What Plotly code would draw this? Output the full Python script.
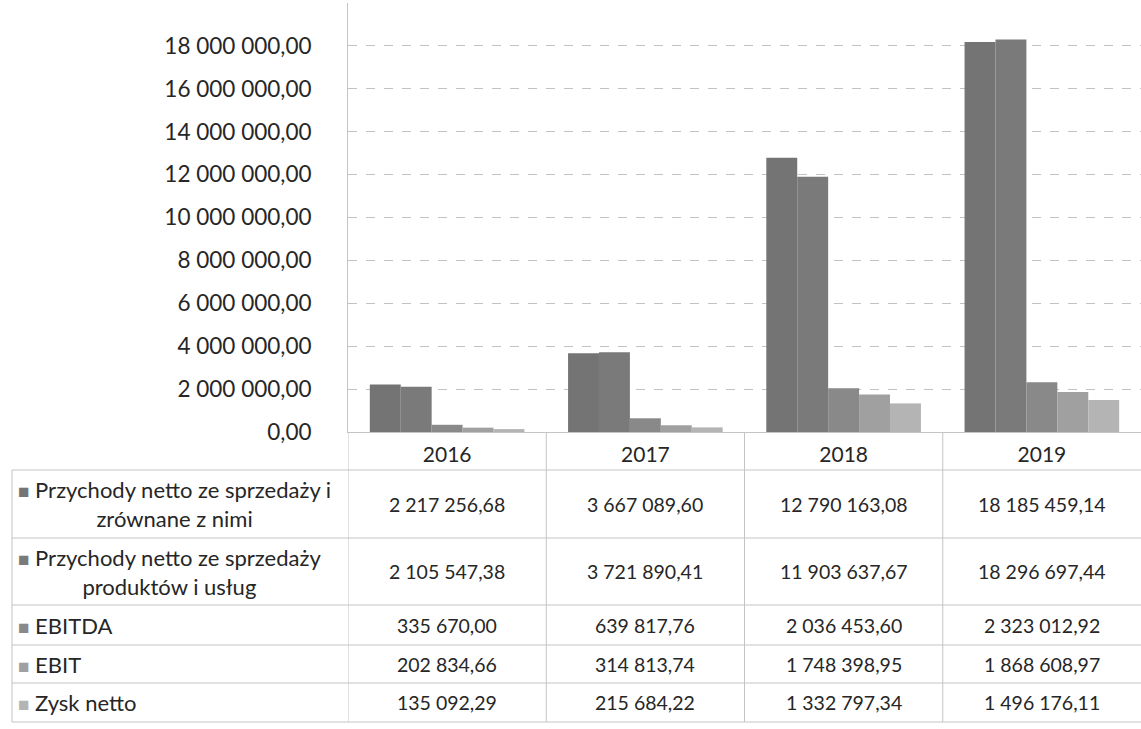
import plotly.graph_objects as go

# ---------------- data ----------------
years = ["2016", "2017", "2018", "2019"]
series_names = [
    "Przychody netto ze sprzedaży i<br>zrównane z nimi",
    "Przychody netto ze sprzedaży<br>produktów i usług",
    "EBITDA",
    "EBIT",
    "Zysk netto",
]
przychody_zrownane = [2217256.68, 3667089.60, 12790163.08, 18185459.14]
przychody_produkty = [2105547.38, 3721890.41, 11903637.67, 18296697.44]
ebitda = [335670.00, 639817.76, 2036453.60, 2323012.92]
ebit = [202834.66, 314813.74, 1748398.95, 1868608.97]
zysk_netto = [135092.29, 215684.22, 1332797.34, 1496176.11]
series_values = [przychody_zrownane, przychody_produkty, ebitda, ebit, zysk_netto]
y_ticks = [0, 2e6, 4e6, 6e6, 8e6, 10e6, 12e6, 14e6, 16e6, 18e6]

# ---------------- style ----------------
colors = ["#747474", "#7a7a7a", "#898989", "#a0a0a0", "#b4b4b4"]
W, H = 1141, 729
TOP, BOT = 3, 0
FONT = "Lato"
TXT = "#262626"
LINE = "#c4c4c4"

def px(x):
    return x / W

def py(y):
    return (H - BOT - y) / (H - TOP - BOT)

plot_bottom = 432
rows = [432, 470, 538, 605, 645, 683, 722]  # header + 5 data rows

def fmt(v):
    return f"{v:,.2f}".replace(",", " ").replace(".", ",")

fig = go.Figure()
for name, vals, col in zip(series_names, series_values, colors):
    fig.add_trace(go.Bar(
        x=years, y=vals, name=name.replace("<br>", " "),
        marker=dict(color=col, line=dict(width=0)),
        showlegend=False,
    ))

shapes = []
annotations = []

# horizontal table lines
for yy in rows[1:]:
    shapes.append(dict(type="line", xref="paper", yref="paper",
                       x0=px(12), x1=1, y0=py(yy), y1=py(yy),
                       line=dict(color=LINE, width=1)))
# left border
shapes.append(dict(type="line", xref="paper", yref="paper",
                   x0=px(12), x1=px(12), y0=py(rows[1]), y1=py(rows[-1]),
                   line=dict(color=LINE, width=1)))
# vertical separators at category boundaries
for i in range(len(years)):
    shapes.append(dict(type="line", xref="x", yref="paper",
                       x0=i - 0.5, x1=i - 0.5, y0=py(rows[0]), y1=py(rows[-1]),
                       line=dict(color=LINE, width=1)))

# row labels and values
for r, (name, vals, col) in enumerate(zip(series_names, series_values, colors)):
    yc = py((rows[r + 1] + rows[r + 2]) / 2)
    label = f"<span style='color:{col};font-size:19px'>■</span> {name}"
    annotations.append(dict(xref="paper", yref="paper", x=px(16), y=yc,
                            xanchor="left", yanchor="middle", align="center",
                            text=label, showarrow=False,
                            font=dict(family=FONT, size=22, color=TXT)))
    for i, v in enumerate(vals):
        annotations.append(dict(xref="x", yref="paper", x=i, y=yc,
                                xanchor="center", yanchor="middle",
                                text=fmt(v), showarrow=False,
                                font=dict(family=FONT, size=19.5, color=TXT)))

y_dom0 = py(plot_bottom)

fig.update_layout(
    width=W, height=H,
    margin=dict(l=0, r=0, t=TOP, b=BOT),
    paper_bgcolor="white", plot_bgcolor="white",
    barmode="group", bargap=0.22, bargroupgap=0,
    separators=", ",
    shapes=shapes, annotations=annotations,
    font=dict(family=FONT, color=TXT),
    xaxis=dict(type="category", domain=[px(348), 1], range=[-0.5, len(years) - 0.5],
               autorange=False, showgrid=False,
               showline=True, linecolor=LINE, linewidth=1, ticks="",
               tickfont=dict(family=FONT, size=21, color=TXT),
               ticklabelstandoff=4, automargin=False),
    yaxis=dict(domain=[y_dom0, 1], range=[0, 20e6], autorange=False,
               tickvals=y_ticks,
               tickformat=",.2f", showgrid=True, gridcolor="#c2c2c2",
               griddash="dash", gridwidth=1, showline=True, linecolor=LINE,
               zeroline=False, ticks="", ticklabelstandoff=31,
               tickfont=dict(family=FONT, size=22.5, color=TXT),
               automargin=False),
)

fig.write_html("out.html", config={"displayModeBar": False},
               post_script="document.body.style.margin='0px';document.body.style.overflow='hidden';")
